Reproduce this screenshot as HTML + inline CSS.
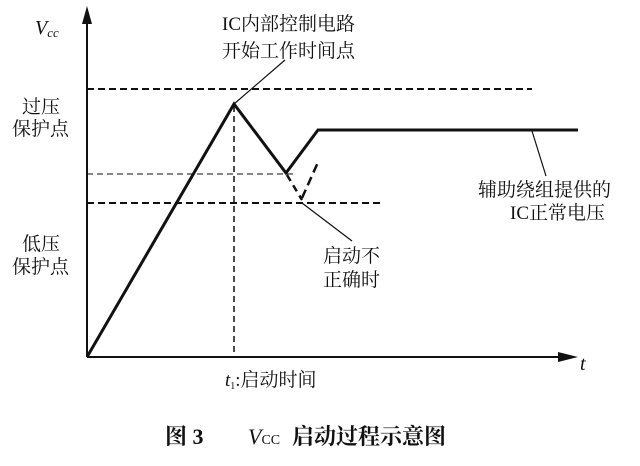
<!DOCTYPE html>
<html><head><meta charset="utf-8"><style>
body{margin:0;background:#fff;}
svg text{font-family:"Liberation Serif","Noto Serif CJK SC",serif;fill:#111;}
</style></head><body>
<svg width="640" height="461" xmlns="http://www.w3.org/2000/svg">
<g stroke="#111" fill="none">
<line x1="87" y1="357" x2="87" y2="22" stroke-width="2"/>
<polygon points="87,6 82,24 92,24" fill="#111" stroke="none"/>
<line x1="87" y1="357" x2="560" y2="357" stroke-width="2"/>
<polygon points="578,357 558,352 558,362" fill="#111" stroke="none"/>
<line x1="87" y1="89" x2="532" y2="89" stroke-width="2" stroke-dasharray="7,4"/>
<line x1="87" y1="174" x2="293" y2="174" stroke-width="1" stroke-dasharray="6,4"/>
<line x1="87" y1="203" x2="382" y2="203" stroke-width="2" stroke-dasharray="7,4"/>
<line x1="234" y1="106" x2="234" y2="357" stroke-width="1.5" stroke-dasharray="6,4"/>
<polyline points="87,357 234,104 286,173 318,130 578,130" stroke-width="3" stroke-linejoin="miter"/>
<line x1="287" y1="175" x2="302" y2="200" stroke-width="2.5" stroke-dasharray="7,5"/>
<line x1="302" y1="198" x2="319" y2="160" stroke-width="2.5" stroke-dasharray="9,5"/>
<line x1="234" y1="104" x2="285" y2="60" stroke-width="1.2"/>
<line x1="302" y1="203" x2="352" y2="241" stroke-width="1.2"/>
<line x1="532" y1="131" x2="546" y2="176" stroke-width="1.2"/>
</g>
<text x="35" y="34" font-size="20" font-style="italic">V<tspan font-size="13" dy="3">cc</tspan></text>
<text x="222" y="30" font-size="19">IC内部控制电路</text>
<text x="222" y="57" font-size="19">开始工作时间点</text>
<text x="22" y="113" font-size="19">过压</text>
<text x="12" y="135" font-size="19">保护点</text>
<text x="22" y="250" font-size="19">低压</text>
<text x="12" y="273" font-size="19">保护点</text>
<text x="323" y="262" font-size="19">启动不</text>
<text x="323" y="286" font-size="19">正确时</text>
<text x="478" y="196" font-size="19">辅助绕组提供的</text>
<text x="510" y="219" font-size="19">IC正常电压</text>
<text x="225" y="386" font-size="19"><tspan font-style="italic">t</tspan><tspan font-size="10" dy="3">1</tspan><tspan dy="-3">:启动时间</tspan></text>
<text x="580" y="370" font-size="20" font-style="italic">t</text>
<text x="165" y="444" font-size="22" font-weight="bold">图 3</text>
<text x="248" y="444" font-size="22" font-style="italic">V<tspan font-size="14" font-style="normal">CC</tspan></text>
<text x="292" y="444" font-size="22" font-weight="bold">启动过程示意图</text>
</svg>
</body></html>
